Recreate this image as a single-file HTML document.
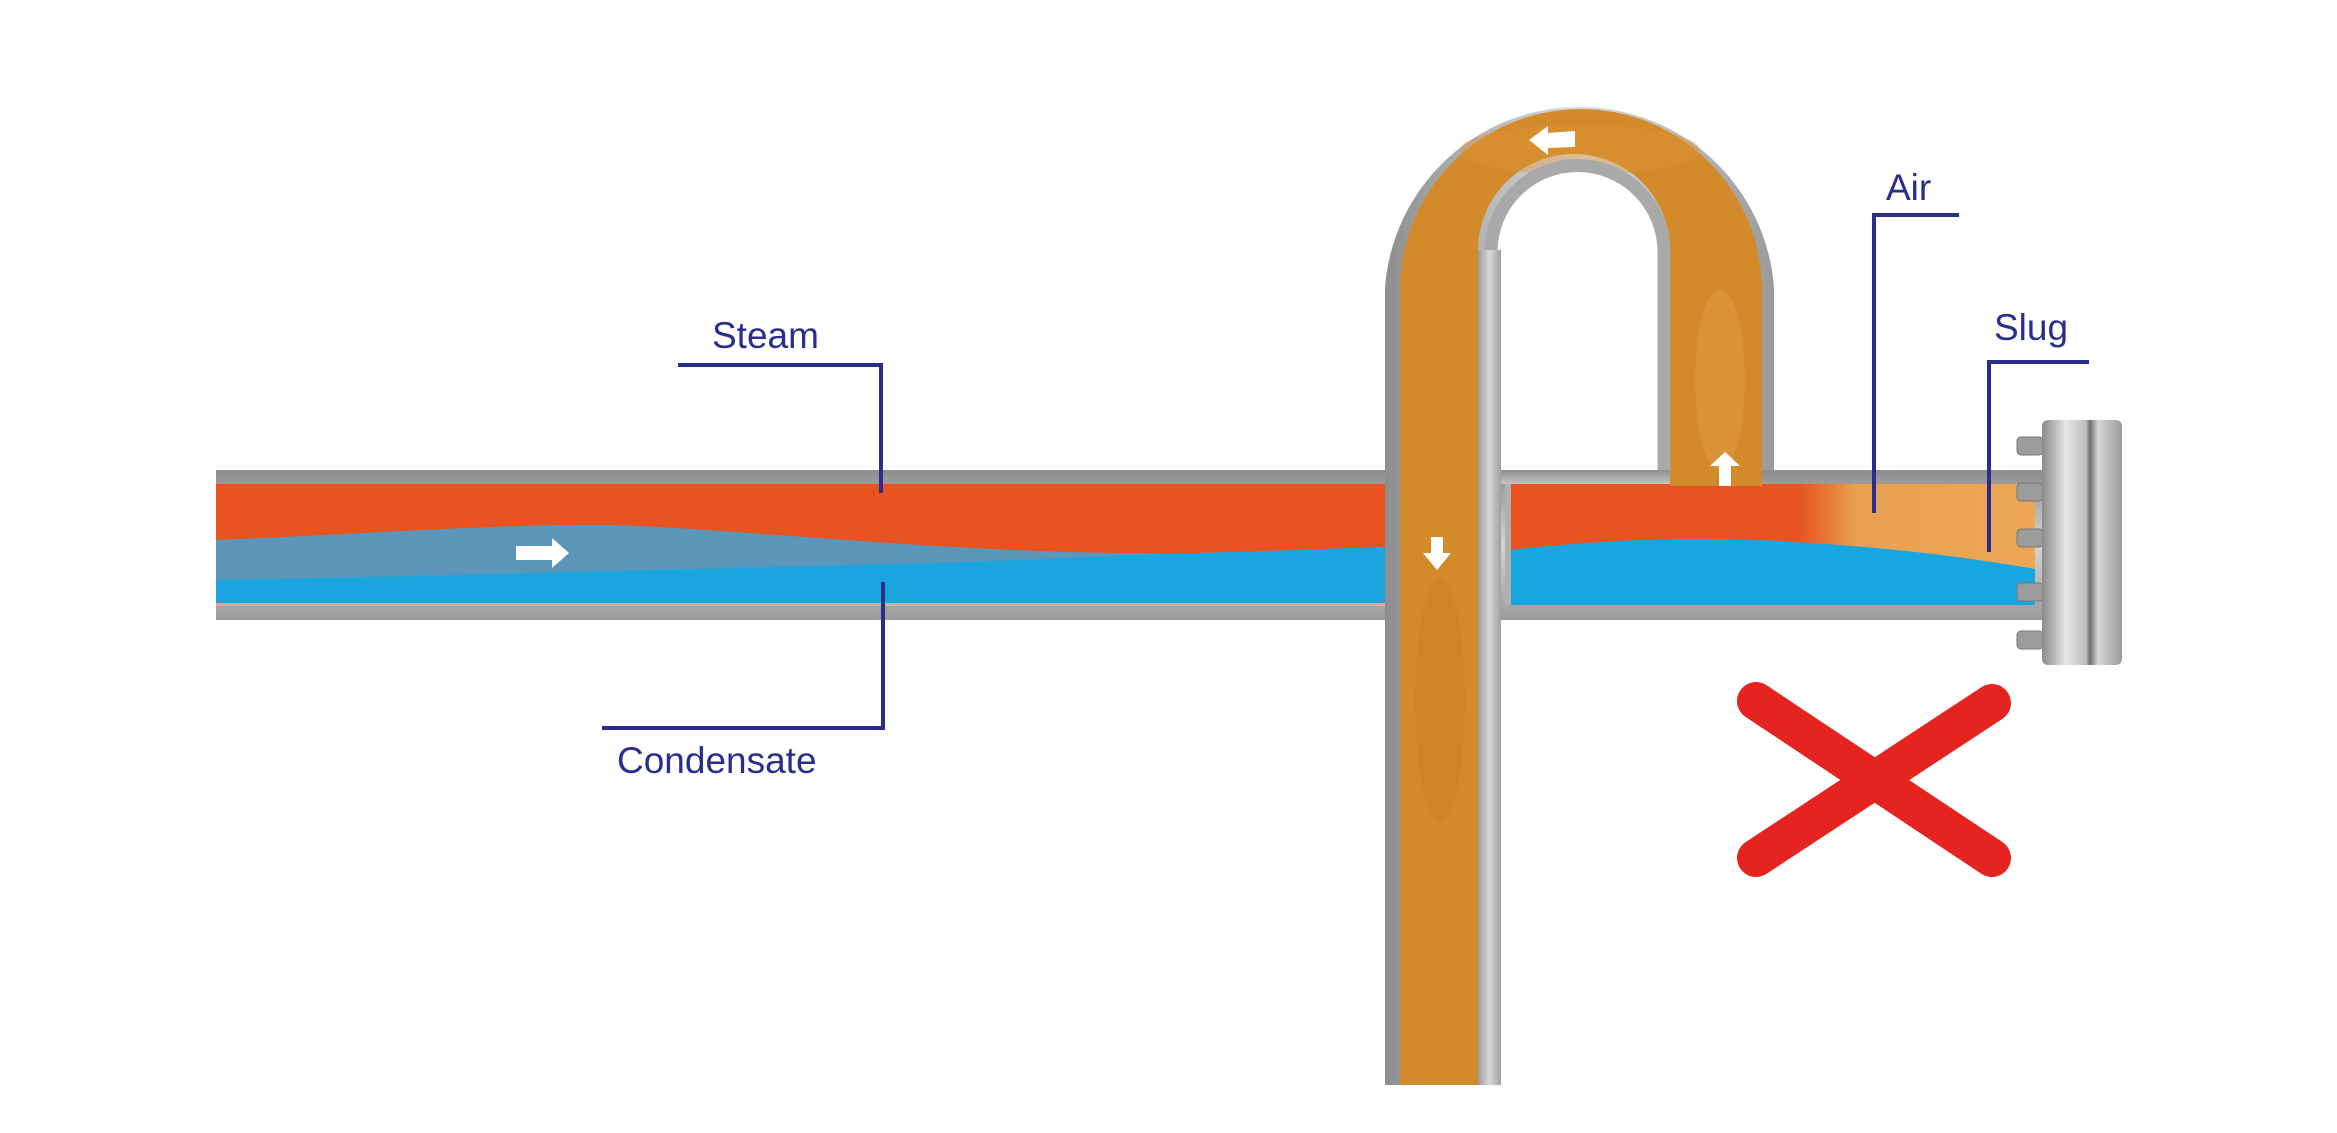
<!DOCTYPE html>
<html><head><meta charset="utf-8"><style>
html,body{margin:0;padding:0;background:#fff;}
svg{display:block;}
text{font-family:"Liberation Sans",Arial,sans-serif;fill:#2a2d8c;font-size:37px;}
</style></head><body>
<svg width="2337" height="1133" viewBox="0 0 2337 1133" xmlns="http://www.w3.org/2000/svg">
<defs>
<linearGradient id="gh" x1="0" y1="0" x2="0" y2="1">
<stop offset="0" stop-color="#8e8e8e"/><stop offset="0.5" stop-color="#d4d4d4"/><stop offset="1" stop-color="#9a9a9a"/></linearGradient>
<linearGradient id="gt" x1="0" y1="0" x2="0" y2="1">
<stop offset="0" stop-color="#8e8e8e"/><stop offset="1" stop-color="#c4c4c4"/></linearGradient>
<linearGradient id="gv" x1="0" y1="0" x2="1" y2="0">
<stop offset="0" stop-color="#8e8e8e"/><stop offset="0.5" stop-color="#dcdcdc"/><stop offset="1" stop-color="#9a9a9a"/></linearGradient>
<linearGradient id="gw" x1="0" y1="0" x2="1" y2="0">
<stop offset="0" stop-color="#9a9a9a"/><stop offset="0.5" stop-color="#d8d8d8"/><stop offset="1" stop-color="#a0a0a0"/></linearGradient>
<linearGradient id="air" x1="0" y1="0" x2="1" y2="0">
<stop offset="0" stop-color="#e8531f"/><stop offset="0.55" stop-color="#e8531f"/><stop offset="0.66" stop-color="#e9a050"/><stop offset="1" stop-color="#eba757"/></linearGradient>
<linearGradient id="fl" x1="0" y1="0" x2="1" y2="0">
<stop offset="0" stop-color="#8a8a8a"/><stop offset="0.3" stop-color="#e6e6e6"/><stop offset="0.55" stop-color="#bdbdbd"/><stop offset="0.6" stop-color="#6f6f6f"/><stop offset="0.7" stop-color="#d8d8d8"/><stop offset="1" stop-color="#9a9a9a"/></linearGradient>
</defs>

<rect x="216" y="470" width="1170" height="150" fill="url(#gh)"/>
<rect x="216" y="484" width="1170" height="121" fill="#e8531f"/>
<path d="M216 540 C400 532 560 520 659 527 C800 535 1000 556 1195 553 C1280 551 1340 548 1386 547 L1386 605 L216 605 Z" fill="#5b96b9"/>
<path d="M216 580 C450 576 700 568 900 564 C1050 560 1150 553 1195 553 C1280 551 1340 548 1386 547 L1386 605 L216 605 Z" fill="#1ba5de"/>
<rect x="216" y="603" width="1170" height="3" fill="#f0a0a0"/>

<rect x="1500" y="470" width="545" height="150" fill="url(#gh)"/>
<rect x="1510" y="484" width="525" height="121" fill="url(#air)"/>
<path d="M1510 550 C1600 540 1680 537 1760 540 C1880 546 1960 556 2035 569 L2035 605 L1510 605 Z" fill="#17a6e0"/>
<rect x="1505" y="484" width="6" height="121" fill="#b0b0b0"/>

<path d="M1385 1085 L1385 288 A195 195 0 0 1 1774 288 L1774 470 L1498 470 L1498 1085 Z" fill="url(#gv)"/>
<path d="M1400 1085 L1400 290 A181 181 0 0 1 1762 290 L1762 486 L1670 486 L1670 250 A96 96 0 0 0 1478 250 L1478 1085 Z" fill="#d38a2a"/>
<ellipse cx="1440" cy="700" rx="25" ry="120" fill="#c9801f" opacity="0.5"/>
<ellipse cx="1720" cy="380" rx="25" ry="90" fill="#e09a45" opacity="0.5"/>
<ellipse cx="1580" cy="150" rx="120" ry="25" fill="#dc9438" opacity="0.4"/>
<path d="M1664 470 L1664 252 A86.5 86.5 0 0 0 1491 252 L1491 470 Z" fill="#fff"/>
<path d="M1664 471 L1664 252 A86.5 86.5 0 0 0 1491 252" fill="none" stroke="#a9a9a9" stroke-width="13"/>
<rect x="1495" y="470" width="175" height="14" fill="url(#gt)"/>
<rect x="1478" y="250" width="23" height="835" fill="url(#gw)"/>

<path d="M1529 140 L1548 126 L1548 133 L1575 131 L1575 147 L1548 148 L1548 155 Z" fill="#fff"/>
<path d="M1725 452 L1740 466 L1731 466 L1731 486 L1719 486 L1719 466 L1710 466 Z" fill="#fff"/>
<path d="M1437 570 L1423 553 L1431 553 L1431 537 L1443 537 L1443 553 L1451 553 Z" fill="#fff"/>
<path d="M569 553 L552 538 L552 546 L516 546 L516 560 L552 560 L552 568 Z" fill="#fff"/>

<g fill="#9c9c9c" stroke="#777" stroke-width="1">
<rect x="2017" y="437" width="26" height="18" rx="4"/>
<rect x="2017" y="483" width="26" height="18" rx="4"/>
<rect x="2017" y="529" width="26" height="18" rx="4"/>
<rect x="2017" y="583" width="26" height="18" rx="4"/>
<rect x="2017" y="631" width="26" height="18" rx="4"/>
</g>
<rect x="2042" y="420" width="80" height="245" rx="6" fill="url(#fl)"/>

<g stroke="#2a2d8c" stroke-width="4" fill="none">
<polyline points="678,365 881,365 881,493"/>
<polyline points="883,582 883,728 602,728"/>
<polyline points="1959,215 1874,215 1874,513"/>
<polyline points="2089,362 1989,362 1989,552"/>
</g>
<text x="712" y="348">Steam</text>
<text x="617" y="773">Condensate</text>
<text x="1886" y="200">Air</text>
<text x="1994" y="340">Slug</text>

<g stroke="#e52420" stroke-width="38" stroke-linecap="round">
<line x1="1756" y1="701" x2="1992" y2="858"/>
<line x1="1992" y1="703" x2="1756" y2="858"/>
</g>
</svg>
</body></html>
